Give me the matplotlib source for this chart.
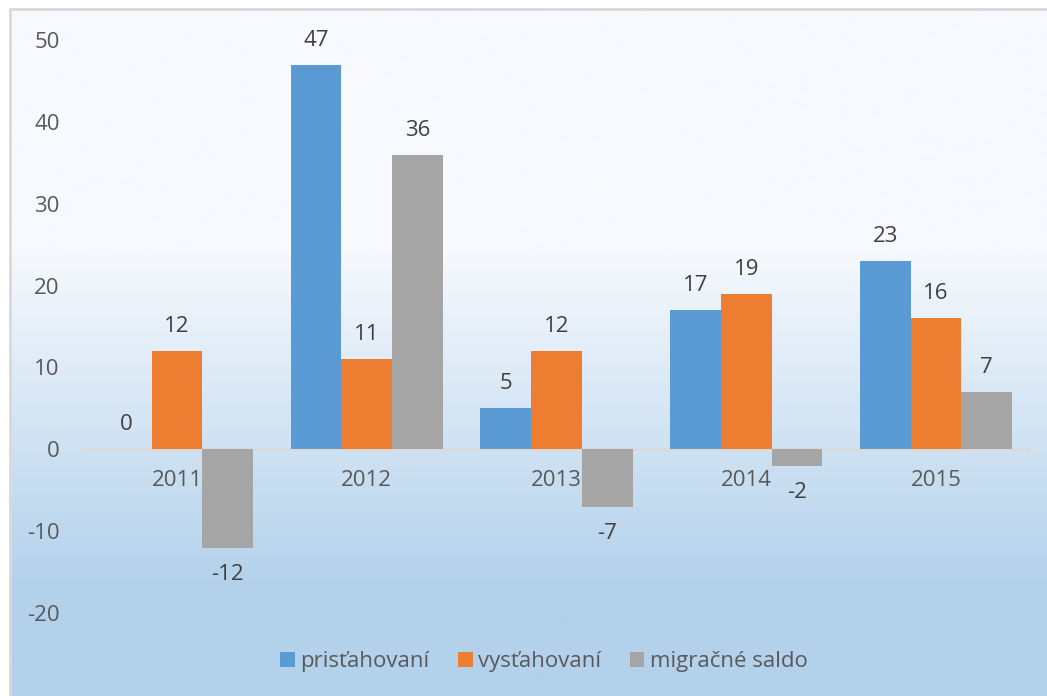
import numpy as np
import matplotlib.pyplot as plt
from matplotlib.colors import LinearSegmentedColormap
from matplotlib.patches import Rectangle

years = ['2011', '2012', '2013', '2014', '2015']
pristahovani = [0, 47, 5, 17, 23]
vystahovani = [12, 11, 12, 19, 16]
saldo = [-12, 36, -7, -2, 7]
series_names = ['prisťahovaní', 'vysťahovaní', 'migračné saldo']
colors = ['#5B9BD5', '#ED7D31', '#A5A5A5']

plt.rcParams['font.family'] = ['Open Sans', 'DejaVu Sans']
plt.rcParams['axes.unicode_minus'] = False

W, H = 1047, 696
fig = plt.figure(figsize=(W / 100, H / 100), dpi=100)

# gradient background inside the chart frame
bg = fig.add_axes([10 / W, 0, 1 - 10 / W, 1 - 9 / H], zorder=-5)
ys = np.linspace(0, 1, 400)
grad = np.clip((ys * (H - 9) - 240) / 340, 0, 1)
cmap = LinearSegmentedColormap.from_list('bg', ['#F6F9FD', '#B3D1EB'])
bg.imshow(grad[:, None], aspect='auto', cmap=cmap, vmin=0, vmax=1,
          extent=[0, 1, 0, 1], origin='upper')
bg.set_axis_off()
fig.patches.append(Rectangle((10 / W, -0.1), 1.2, 1.1 - 9 / H,
                             transform=fig.transFigure, fill=False,
                             edgecolor='#D9D9D9', linewidth=2))

ax = fig.add_axes([82 / W, 1 - 613 / H, (1031 - 82) / W, (613 - 40) / H])
ax.set_facecolor('none')
x = np.arange(len(years))
bw = 0.267
for i, (vals, c) in enumerate(zip([pristahovani, vystahovani, saldo], colors)):
    pos = x + (i - 1) * bw
    ax.bar(pos, vals, width=bw, color=c, label=series_names[i], zorder=3)
    for p, v in zip(pos, vals):
        if v >= 0:
            ax.annotate(str(v), (p, v), xytext=(0, 10), textcoords='offset points',
                        ha='center', va='bottom', fontsize=16, color='#404040')
        else:
            ax.annotate(str(v), (p, v), xytext=(0, -12), textcoords='offset points',
                        ha='center', va='top', fontsize=16, color='#404040')

ax.axhline(0, color='#D9D9D9', linewidth=2, zorder=2)
ax.set_xlim(-0.5, 4.5)
ax.set_ylim(-20, 50)
ax.set_yticks(range(-20, 51, 10))
ax.tick_params(axis='y', length=0, labelsize=16, labelcolor='#595959', pad=16)
ax.set_xticks([])
for xi, yr in zip(x, years):
    ax.text(xi, -3.8, yr, ha='center', va='center', fontsize=16, color='#595959', zorder=1)
for s in ax.spines.values():
    s.set_visible(False)

leg = fig.legend(loc='center', bbox_to_anchor=(544 / W, 1 - 662 / H), ncol=3,
                 frameon=False, fontsize=16, handlelength=0.65, handleheight=0.65,
                 handletextpad=0.25, columnspacing=1.3)
for t in leg.get_texts():
    t.set_color('#595959')

fig.savefig('out.png', dpi=100)
